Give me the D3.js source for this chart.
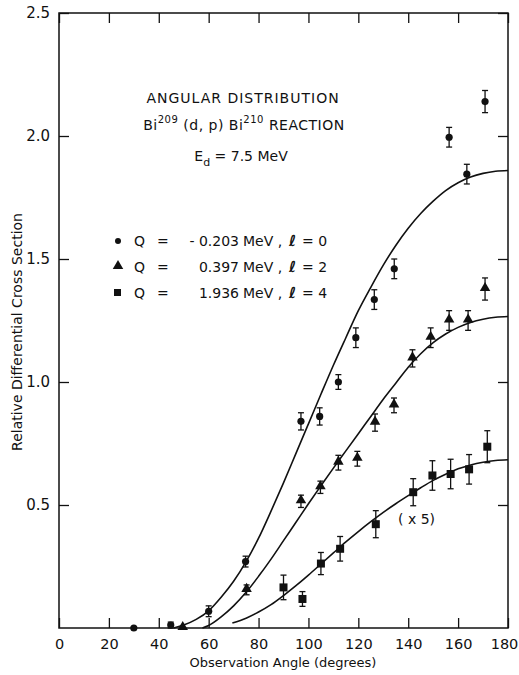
<!DOCTYPE html>
<html>
<head>
<meta charset="utf-8">
<script src="https://cdn.jsdelivr.net/npm/d3@7"></script>
<style>
  body { margin: 0; background: #fff; }
  text { font-family: "DejaVu Sans", sans-serif; fill: #111; }
</style>
</head>
<body>
<div class="chart"></div>
<script>
// [angle (deg), relative cross section, error]
const ell0Points = [
  [30, 0.0, 0], [44.8, 0.012, 0.012], [60, 0.068, 0.022], [74.8, 0.27, 0.022],
  [97, 0.84, 0.035], [104.5, 0.86, 0.035], [112, 1.0, 0.03], [119, 1.18, 0.04],
  [126.4, 1.335, 0.04], [134.4, 1.46, 0.04], [156.4, 1.995, 0.04], [163.5, 1.845, 0.04],
  [170.8, 2.14, 0.045]
];
const ell2Points = [
  [49.6, 0.0, 0], [75.2, 0.155, 0.02], [97, 0.515, 0.025], [104.8, 0.572, 0.025],
  [112, 0.672, 0.03], [119.6, 0.688, 0.03], [126.7, 0.835, 0.035], [134.3, 0.905, 0.03],
  [141.7, 1.096, 0.035], [149, 1.18, 0.04], [156.4, 1.25, 0.04], [164, 1.25, 0.04],
  [170.8, 1.378, 0.045]
];
const ell4Points = [
  [90, 0.165, 0.05], [97.6, 0.118, 0.03], [105, 0.262, 0.045], [112.7, 0.322, 0.05],
  [127, 0.422, 0.055], [142, 0.552, 0.055], [149.7, 0.62, 0.06], [157, 0.626, 0.06],
  [164.4, 0.645, 0.06], [171.7, 0.737, 0.065]
];

// fitted curves, [angle, value]
const ell0Fit = [
  [46, 0], [50, 0.012], [55, 0.035], [60, 0.07], [65, 0.125], [70, 0.19], [75, 0.27],
  [80, 0.365], [85, 0.475], [90, 0.59], [95, 0.71], [100, 0.83], [105, 0.95],
  [110, 1.068], [115, 1.18], [120, 1.29], [125, 1.385], [130, 1.475], [135, 1.555],
  [140, 1.625], [145, 1.685], [150, 1.735], [155, 1.778], [160, 1.81], [165, 1.833],
  [170, 1.848], [175, 1.857], [180, 1.86]
];
const ell2Fit = [
  [57.5, 0], [60, 0.01], [65, 0.045], [70, 0.09], [75, 0.145], [80, 0.21], [85, 0.28],
  [90, 0.355], [95, 0.43], [100, 0.505], [105, 0.578], [110, 0.65], [115, 0.72],
  [120, 0.79], [125, 0.86], [130, 0.93], [135, 0.995], [140, 1.06], [145, 1.115],
  [150, 1.16], [155, 1.195], [160, 1.222], [165, 1.242], [170, 1.255], [175, 1.263],
  [180, 1.266]
];
const ell4Fit = [
  [69.5, 0.02], [75, 0.04], [80, 0.065], [85, 0.095], [90, 0.132], [95, 0.172],
  [100, 0.215], [105, 0.26], [110, 0.305], [115, 0.35], [120, 0.392], [125, 0.432],
  [130, 0.47], [135, 0.505], [140, 0.538], [145, 0.57], [150, 0.6], [155, 0.625],
  [160, 0.647], [165, 0.663], [170, 0.674], [175, 0.681], [180, 0.684]
];

const xTicks = [0, 20, 40, 60, 80, 100, 120, 140, 160, 180];
const yTicks = [0.5, 1.0, 1.5, 2.0, 2.5];

const W = 519, H = 675;
const frame = { left: 59, right: 508, top: 13, bottom: 628 };

const svg = d3.select(".chart").append("svg")
  .attr("width", W).attr("height", H);

const x = d3.scaleLinear().domain([0, 180]).range([frame.left, frame.right]);
const y = d3.scaleLinear().domain([0, 2.5]).range([frame.bottom, frame.top]);

// frame
svg.append("rect")
  .attr("x", frame.left).attr("y", frame.top)
  .attr("width", frame.right - frame.left).attr("height", frame.bottom - frame.top)
  .attr("fill", "none").attr("stroke", "#111").attr("stroke-width", 1.5);

const styleAxis = (g) => {
  g.select(".domain").remove();
  g.selectAll(".tick line").attr("stroke", "#111").attr("stroke-width", 1.3);
};

svg.append("g")
  .attr("transform", `translate(0,${frame.bottom})`)
  .call(d3.axisBottom(x).tickValues(xTicks).tickSize(-10).tickPadding(11).tickFormat(d3.format("d")))
  .call(styleAxis)
  .selectAll("text")
  .attr("font-size", 14.5)
  .style("font-family", "DejaVu Sans")
  .attr("dx", (d) => (d === 180 ? -4 : 0));

svg.append("g")
  .attr("transform", `translate(0,${frame.top})`)
  .call(d3.axisTop(x).tickValues(xTicks).tickSize(-10).tickFormat(""))
  .call(styleAxis);

svg.append("g")
  .attr("transform", `translate(${frame.left},0)`)
  .call(d3.axisLeft(y).tickValues(yTicks).tickSize(-10).tickPadding(9).tickFormat(d3.format(".1f")))
  .call(styleAxis)
  .selectAll("text").attr("font-size", 15).style("font-family", "DejaVu Sans");

svg.append("g")
  .attr("transform", `translate(${frame.right},0)`)
  .call(d3.axisRight(y).tickValues(yTicks).tickSize(-10).tickFormat(""))
  .call(styleAxis);

// axis titles
svg.append("text")
  .attr("x", 283).attr("y", 667)
  .attr("text-anchor", "middle").attr("font-size", 13)
  .text("Observation Angle (degrees)");

svg.append("text")
  .attr("transform", "translate(22,332) rotate(-90)")
  .attr("text-anchor", "middle").attr("font-size", 14)
  .text("Relative Differential Cross Section");

// fitted curves
const line = d3.line()
  .x((d) => x(d[0]))
  .y((d) => y(d[1]))
  .curve(d3.curveMonotoneX);

[ell0Fit, ell2Fit, ell4Fit].forEach((fit) => {
  svg.append("path")
    .attr("d", line(fit))
    .attr("fill", "none")
    .attr("stroke", "#111")
    .attr("stroke-width", 1.6);
});

// error bars
const drawErrors = (pts) => {
  const g = svg.append("g").attr("stroke", "#111").attr("stroke-width", 1.3);
  const withErr = pts.filter((d) => d[2] > 0);
  g.selectAll("line.bar").data(withErr).enter().append("line")
    .attr("x1", (d) => x(d[0])).attr("x2", (d) => x(d[0]))
    .attr("y1", (d) => y(d[1] - d[2])).attr("y2", (d) => y(d[1] + d[2]));
  g.selectAll("line.capTop").data(withErr).enter().append("line")
    .attr("x1", (d) => x(d[0]) - 3).attr("x2", (d) => x(d[0]) + 3)
    .attr("y1", (d) => y(d[1] + d[2])).attr("y2", (d) => y(d[1] + d[2]));
  g.selectAll("line.capBot").data(withErr).enter().append("line")
    .attr("x1", (d) => x(d[0]) - 3).attr("x2", (d) => x(d[0]) + 3)
    .attr("y1", (d) => y(d[1] - d[2])).attr("y2", (d) => y(d[1] - d[2]));
};
drawErrors(ell0Points);
drawErrors(ell2Points);
drawErrors(ell4Points);

// markers
svg.append("g").selectAll("circle").data(ell0Points).enter().append("circle")
  .attr("cx", (d) => x(d[0])).attr("cy", (d) => y(d[1]))
  .attr("r", 3.6).attr("fill", "#111");

const tri = d3.symbol().type(d3.symbolTriangle).size(48);
svg.append("g").selectAll("path").data(ell2Points).enter().append("path")
  .attr("d", tri)
  .attr("transform", (d) => `translate(${x(d[0])},${y(d[1]) - 1})`)
  .attr("fill", "#111");

svg.append("g").selectAll("rect").data(ell4Points).enter().append("rect")
  .attr("x", (d) => x(d[0]) - 4).attr("y", (d) => y(d[1]) - 4)
  .attr("width", 8).attr("height", 8).attr("fill", "#111");

// annotations
svg.append("text")
  .attr("x", 243).attr("y", 103).attr("text-anchor", "middle")
  .attr("font-size", 14).attr("letter-spacing", 1)
  .text("ANGULAR DISTRIBUTION");

const t2 = svg.append("text")
  .attr("x", 244).attr("y", 130).attr("text-anchor", "middle")
  .attr("font-size", 14).attr("letter-spacing", 0.5);
t2.append("tspan").text("Bi");
t2.append("tspan").attr("dy", -7).attr("font-size", 10).text("209");
t2.append("tspan").attr("dy", 7).text(" (d, p) Bi");
t2.append("tspan").attr("dy", -7).attr("font-size", 10).text("210");
t2.append("tspan").attr("dy", 7).text(" REACTION");

const t3 = svg.append("text")
  .attr("x", 241).attr("y", 161).attr("text-anchor", "middle")
  .attr("font-size", 14);
t3.append("tspan").text("E");
t3.append("tspan").attr("dy", 5).attr("font-size", 11).text("d");
t3.append("tspan").attr("dy", -5).text(" = 7.5 MeV");

const legendRows = [
  { value: "- 0.203", ell: "0" },
  { value: "0.397", ell: "2" },
  { value: "1.936", ell: "4" }
];
legendRows.forEach((r, i) => {
  const yy = 246 + i * 26;
  if (i === 0) {
    svg.append("circle").attr("cx", 118).attr("cy", yy - 5).attr("r", 3).attr("fill", "#111");
  } else if (i === 1) {
    svg.append("path").attr("d", tri).attr("transform", `translate(118,${yy - 6})`).attr("fill", "#111");
  } else {
    svg.append("rect").attr("x", 114).attr("y", yy - 9).attr("width", 7).attr("height", 7).attr("fill", "#111");
  }
  svg.append("text").attr("x", 134).attr("y", yy).attr("font-size", 14).text("Q");
  svg.append("text").attr("x", 157).attr("y", yy).attr("font-size", 14).text("=");
  svg.append("text").attr("x", 239).attr("y", yy).attr("text-anchor", "end").attr("font-size", 14).text(r.value);
  svg.append("text").attr("x", 243).attr("y", yy).attr("font-size", 14).text("MeV ,");
  svg.append("text").attr("x", 289).attr("y", yy).attr("font-size", 15)
    .attr("font-style", "italic").attr("font-weight", "bold").text("ℓ");
  svg.append("text").attr("x", 302).attr("y", yy).attr("font-size", 14).text("= " + r.ell);
});

svg.append("text")
  .attr("x", 398).attr("y", 524).attr("font-size", 14)
  .text("( x 5)");
</script>
</body>
</html>
